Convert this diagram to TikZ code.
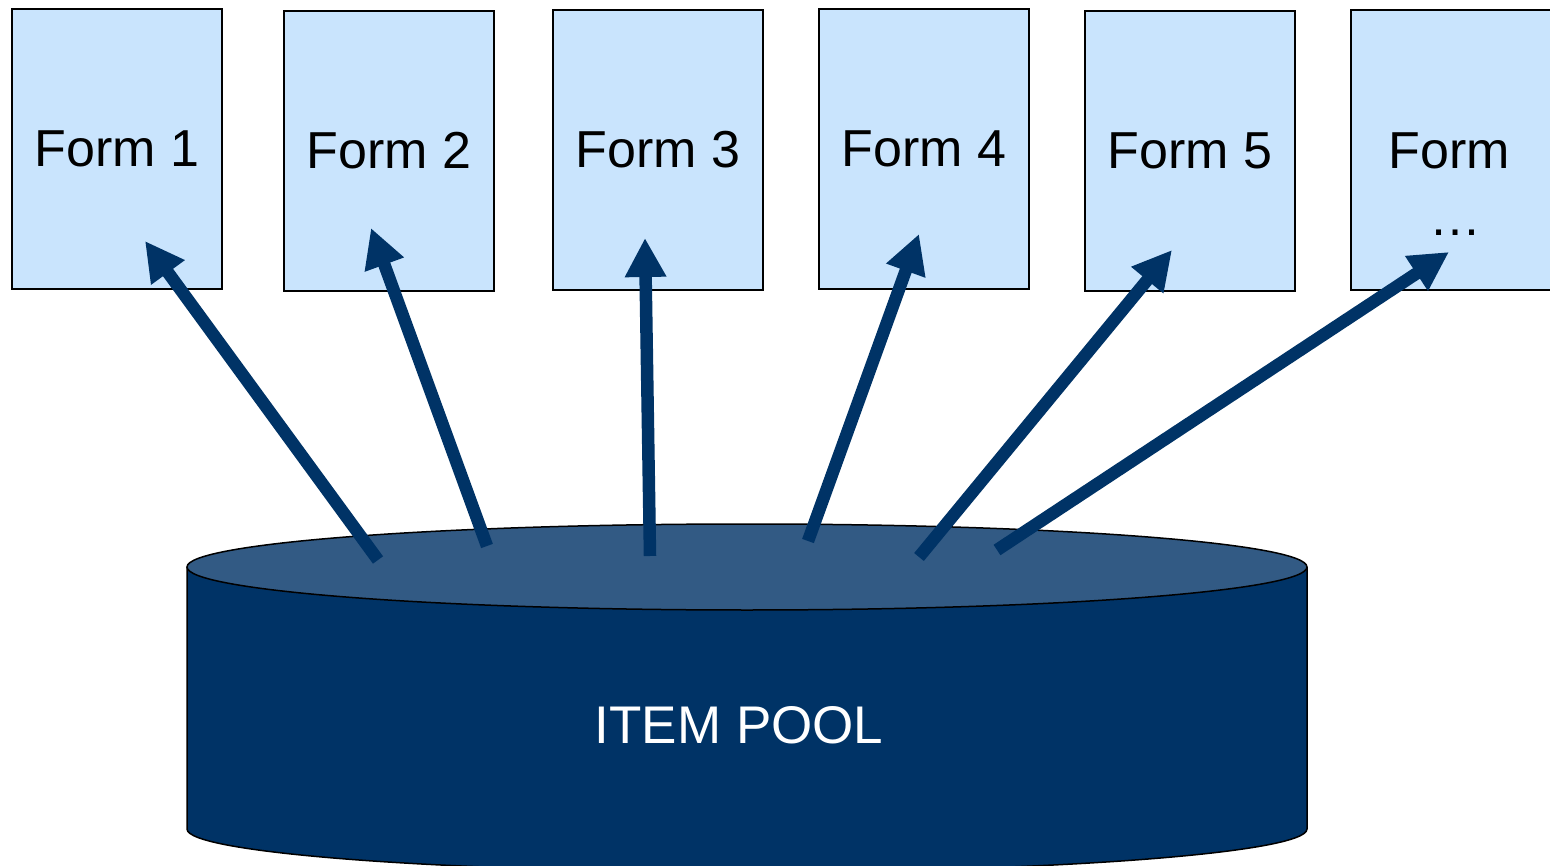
\documentclass[tikz,border=0pt]{standalone}
\usepackage{fontspec}
\setmainfont{Liberation Sans}
\usetikzlibrary{arrows.meta,shapes.geometric}
\definecolor{boxfill}{HTML}{C9E4FD}
\definecolor{navy}{HTML}{003366}
\definecolor{topfill}{HTML}{325A84}
\tikzset{
  formbox/.style={draw=black, line width=1.3pt, fill=boxfill, minimum width=210pt, minimum height=280pt, inner sep=0pt, font=\fontsize{52}{58}\selectfont, text=black, align=center},
  formtext/.style={font=\fontsize{52}{58}\selectfont, text=black},
  bigarrow/.style={draw=navy, line width=12.5pt, -{Triangle[width=39pt,length=39pt]}},
}
\begin{document}
\begin{tikzpicture}[x=1pt,y=-1pt]
\useasboundingbox (0,0) rectangle (1550,866);
\clip (0,0) rectangle (1550,866);
% form boxes
\node[formbox] (f1) at (117,149) {Form 1};
\node[formbox] (f2) at (389,151) {Form 2};
\node[formbox] (f3) at (658,150) {Form 3};
\node[formbox] (f4) at (924,149) {Form 4};
\node[formbox] (f5) at (1190,151) {Form 5};
\node[formbox, minimum width=212pt] (f6) at (1457,150) {};
\node[formtext] (f6t) at (1449,151) {Form};
\node[formtext, anchor=base] (f6d) at (1455,236) {\dots};
% cylinder
\path[fill=navy, draw=black, line width=1.5pt]
  (187,567) -- (187,829) arc[start angle=180, end angle=0, x radius=560, y radius=43]
  -- (1307,567);
\node[draw=black, line width=1.5pt, fill=topfill, ellipse, minimum width=1120pt, minimum height=86pt, inner sep=0pt] (top) at (747,567) {};
\node[text=white, font=\fontsize{53}{59}\selectfont] (pool) at (739,725) {ITEM POOL};
% arrow end points
\coordinate (s1) at (378,560); \coordinate (t1) at (145,241);
\coordinate (s2) at (487,546); \coordinate (t2) at (371,228);
\coordinate (s3) at (650,556); \coordinate (t3) at (645,238);
\coordinate (s4) at (808,541); \coordinate (t4) at (919,234);
\coordinate (s5) at (919,557); \coordinate (t5) at (1172,250);
\coordinate (s6) at (997,550); \coordinate (t6) at (1449,252);
\foreach \i in {1,...,6} \draw[bigarrow] (s\i) -- (t\i);
\end{tikzpicture}
\end{document}
